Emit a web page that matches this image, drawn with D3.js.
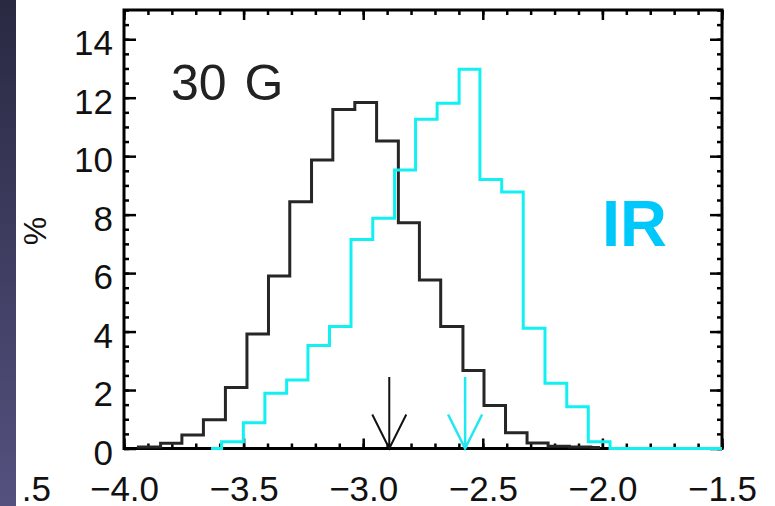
<!DOCTYPE html>
<html>
<head>
<meta charset="utf-8">
<script src="https://cdn.jsdelivr.net/npm/d3@7"></script>
<style>
body{margin:0;background:#fff;}
svg{display:block;font-family:"Liberation Sans",Arial,sans-serif;}
.axis path{display:none}
.axis line{stroke:#000;stroke-width:2.5}
.axis text{font-size:35px;fill:#111;font-family:"Liberation Sans",Arial,sans-serif}
</style>
</head>
<body>
<div id="chart"></div>
<script>
// bin edges (left edges + last right edge) and percentages
const edgesAll = [-3.946,-3.847,-3.758,-3.668,-3.576,-3.486,-3.396,-3.307,-3.216,-3.127,-3.035,-2.944,-2.853,-2.765,-2.676,-2.583,-2.495,-2.405,-2.315,-2.227,-2.138,-2.048,-2.010]
const pctAll   = [0.05,0.18,0.46,0.98,2.09,3.92,5.90,8.44,9.87,11.60,11.84,10.52,7.72,5.76,4.17,2.67,1.47,0.54,0.19,0.08,0.05,0.03]

const edgesIR = [-3.636,-3.592,-3.501,-3.411,-3.320,-3.231,-3.141,-3.051,-2.960,-2.869,-2.781,-2.691,-2.599,-2.512,-2.421,-2.331,-2.240,-2.149,-2.059,-1.968,-1.5]
const pctIR   = [0,0.23,0.88,1.89,2.34,3.52,4.17,7.15,7.88,9.53,11.26,11.81,12.97,9.20,8.77,4.11,2.23,1.43,0.23,0]

// median arrows
const arrowX = [-2.891, -2.574]
const arrowColor = ['#111', '#1ee8f0']
const arrowTop = 2.45

const xTicks = [-4.0,-3.5,-3.0,-2.5,-2.0,-1.5]
const yTicks = [0,2,4,6,8,10,12,14]

const W = 775, H = 506;

const svg = d3.select('#chart').append('svg')
.attr('width', W)
.attr('height', H)

const x = d3.scaleLinear().domain([-4.0,-1.5]).range([124,722])
const y = d3.scaleLinear().domain([0,15]).range([448.5,10])

// dark strip at the left edge
const grad = svg.append('defs').append('linearGradient')
.attr('id','strip').attr('x1',0).attr('y1',0).attr('x2',0).attr('y2',1)
grad.append('stop').attr('offset','0%').attr('stop-color','#292942')
grad.append('stop').attr('offset','100%').attr('stop-color','#54517f')

svg.append('rect').attr('x',0).attr('y',0).attr('width',16).attr('height',H).attr('fill','url(#strip)')

// cut-off label from neighbouring panel
svg.append('text')
.attr('x',51).attr('y',501)
.attr('text-anchor','end')
.style('font-size','35px').style('fill','#111')
.text('.5')

const minorX = d3.range(-4.0,-1.49,0.1)
const minorY = d3.range(0,15.01,0.5)

const fmt = d3.format('.1f')

svg.append('g').attr('class','axis')
.attr('transform',`translate(0,${y(0)})`)
.call(d3.axisBottom(x).tickValues(xTicks).tickSize(-10).tickPadding(28).tickFormat(fmt))

svg.append('g').attr('class','axis')
.attr('transform',`translate(0,${y(0)})`)
.call(d3.axisBottom(x).tickValues(minorX).tickSize(-5).tickFormat(''))

svg.append('g').attr('class','axis')
.attr('transform',`translate(0,${y(15)})`)
.call(d3.axisTop(x).tickValues(xTicks).tickSize(-10).tickFormat(''))

svg.append('g').attr('class','axis')
.attr('transform',`translate(0,${y(15)})`)
.call(d3.axisTop(x).tickValues(minorX).tickSize(-5).tickFormat(''))

const yAxis = svg.append('g').attr('class','axis')
.attr('transform',`translate(${x(-4)},0)`)
.call(d3.axisLeft(y).tickValues(yTicks).tickSize(-12).tickPadding(11))

yAxis.selectAll('text').attr('dy','0.45em')

svg.append('g').attr('class','axis')
.attr('transform',`translate(${x(-4)},0)`)
.call(d3.axisLeft(y).tickValues(minorY).tickSize(-5).tickFormat(''))

svg.append('g').attr('class','axis')
.attr('transform',`translate(${x(-1.5)},0)`)
.call(d3.axisRight(y).tickValues(yTicks).tickSize(-12).tickFormat(''))

svg.append('g').attr('class','axis')
.attr('transform',`translate(${x(-1.5)},0)`)
.call(d3.axisRight(y).tickValues(minorY).tickSize(-5).tickFormat(''))

// frame
svg.append('rect')
.attr('x',x(-4)).attr('y',y(15))
.attr('width',x(-1.5)-x(-4)).attr('height',y(0)-y(15))
.attr('fill','none').attr('stroke','#000').attr('stroke-width',3)

// y title
svg.append('text')
.attr('transform','translate(46,231) rotate(-90)')
.attr('text-anchor','middle')
.style('font-size','32px').style('fill','#111')
.text('%')

const step = d3.line()
.x(d => x(d[0]))
.y(d => y(d[1]))
.curve(d3.curveStepAfter)

const toPts = (edges, pct) => edges.map((e,i) => [e, i < pct.length ? pct[i] : pct[pct.length-1]])

svg.append('path')
.attr('d', step(toPts(edgesAll, pctAll)))
.attr('fill','none')
.attr('stroke','#262626')
.attr('stroke-width',3)

svg.append('path')
.attr('d', step(toPts(edgesIR, pctIR)))
.attr('fill','none')
.attr('stroke','#12f0f2')
.attr('stroke-width',3)

// arrows
arrowX.map((v,i) => {
	const ax = x(v)
	svg.append('path')
	.attr('d', `M${ax},${y(arrowTop)} L${ax},${y(0)} M${ax-17},${y(0)-34} L${ax},${y(0)} L${ax+17},${y(0)-34}`)
	.attr('fill','none')
	.attr('stroke', arrowColor[i])
	.attr('stroke-width', i == 0 ? 2 : 2.5)
})

svg.append('text')
.attr('x',171).attr('y',100)
.style('font-size','50px').style('fill','#222').style('word-spacing','4px')
.text('30 G')

svg.append('text')
.attr('x',602).attr('y',246)
.style('font-size','65px').style('font-weight','bold').style('fill','#00c8fa')
.text('IR')
</script>
</body>
</html>
